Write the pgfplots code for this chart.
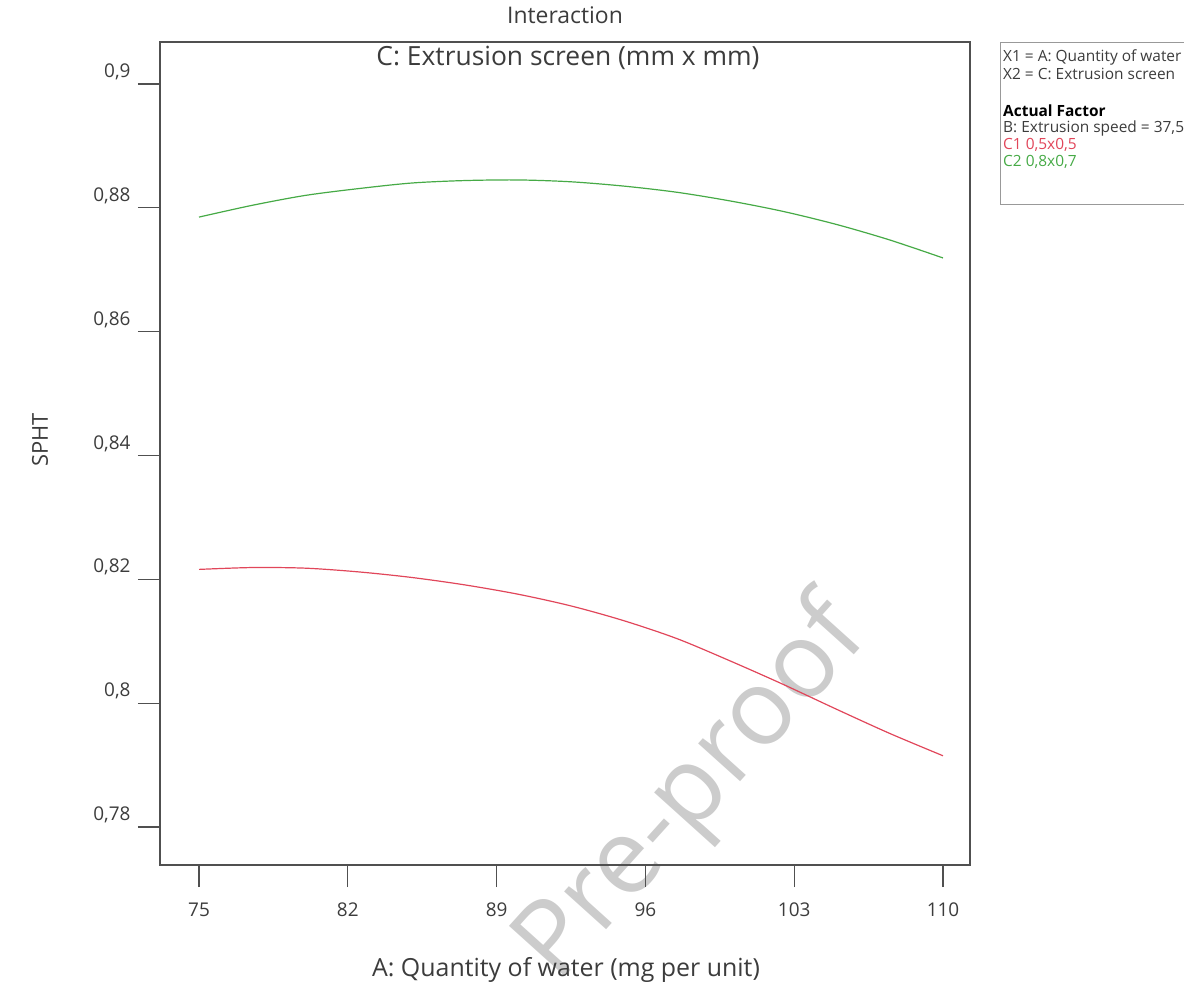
\documentclass[border=0pt]{standalone}
\usepackage{fontspec}
\setmainfont{Open Sans}
\usepackage{pgfplots}
\pgfplotsset{compat=1.18}
\definecolor{gline}{RGB}{70,170,70}
\definecolor{rline}{RGB}{225,70,90}
\definecolor{frm}{RGB}{80,80,80}
\definecolor{txt}{RGB}{60,60,60}
\begin{document}
\begin{tikzpicture}[x=1bp,y=1bp]
\path[use as bounding box] (0bp,0bp) rectangle (1184bp,992bp);
\node[rotate=48, text=black!20, font=\fontsize{106}{106}\selectfont] at (694bp,200bp) {Pre-proof};
\begin{axis}[
  at={(160bp,127bp)}, anchor=south west,
  width=810bp, height=823bp, scale only axis,
  xmin=73.165, xmax=111.27, ymin=0.77386, ymax=0.90678,
  xtick={75,82,89,96,103,110},
  xticklabels={75,82,89,96,103,110},
  ytick={0.78,0.8,0.82,0.84,0.86,0.88,0.9},
  yticklabels={{0,78},{0,8},{0,82},{0,84},{0,86},{0,88},{0,9}},
  tick align=outside, major tick length=22bp, tick pos=left,
  axis line style={frm, line width=1.4bp},
  tick style={frm, line width=1.1bp},
  ticklabel style={text=txt, font=\fontsize{19}{22}\selectfont},
  yticklabel style={anchor=east, yshift=12bp, xshift=-4bp},
  xticklabel style={anchor=north, yshift=-12bp},
  clip=false,
]
\addplot[gline, line width=1.2bp, smooth] coordinates {
(75,0.8785) (77.5,0.8804) (80,0.8820) (82.5,0.8831) (85,0.8840) (87.5,0.8844)
(90,0.8845) (92.5,0.8842) (95,0.8835) (97.5,0.8825) (100,0.8811) (102.5,0.8794)
(105,0.8773) (107.5,0.8748) (110,0.8719)};
\addplot[rline, line width=1.2bp, smooth] coordinates {
(75,0.8216) (77.5,0.8219) (80,0.8218) (82.5,0.8212) (85,0.8203) (87.5,0.8191)
(90,0.8176) (92.5,0.8157) (95,0.8133) (97.5,0.8104) (100,0.8068) (102.5,0.8030)
(105,0.7990) (107.5,0.7951) (110,0.7915)};
\end{axis}
\node[text=txt, font=\fontsize{23}{27}\selectfont] at (565bp,977bp) {Interaction};
\node[text=txt, font=\fontsize{26.5}{30}\selectfont] at (568bp,934bp) {C: Extrusion screen (mm x mm)};
\node[text=txt, font=\fontsize{25}{29}\selectfont] at (566bp,22bp) {A: Quantity of water (mg per unit)};
\node[text=txt, rotate=90, font=\fontsize{22}{26}\selectfont] at (40bp,552bp) {SPHT};
\draw[black!40, line width=1bp] (1000bp,949bp) rectangle (1190bp,787bp);
\begin{scope}[every node/.style={anchor=west, inner sep=0pt, font=\fontsize{15.5}{18}\selectfont}]
\node[text=txt] at (1003bp,935bp) {X1 = A: Quantity of water};
\node[text=txt] at (1003bp,918bp) {X2 = C: Extrusion screen};
\node[text=black] at (1003bp,881bp) {\bfseries Actual Factor};
\node[text=txt] at (1003bp,864bp) {B: Extrusion speed = 37,5};
\node[text=rline] at (1003bp,847bp) {C1 0,5x0,5};
\node[text=gline] at (1003bp,830bp) {C2 0,8x0,7};
\end{scope}
\end{tikzpicture}
\end{document}
